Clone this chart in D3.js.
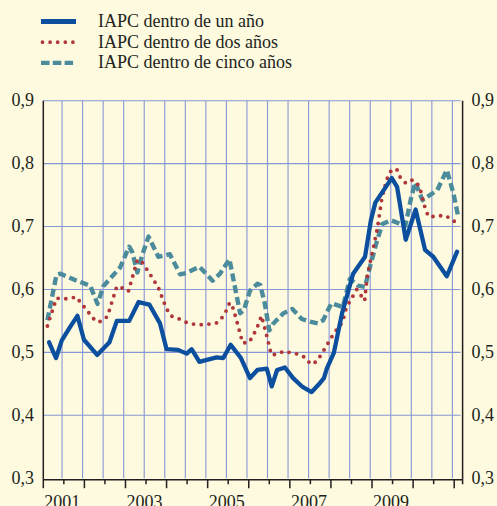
<!DOCTYPE html>
<html>
<head>
<meta charset="utf-8">
<script src="https://cdn.jsdelivr.net/npm/d3@7"></script>
<style>
  html, body { margin: 0; padding: 0; background: #fdfadf; }
  svg { display: block; }
  text { font-family: "Liberation Serif", "Times New Roman", serif; fill: #231f20; }
</style>
</head>
<body>
<svg id="chart" width="497" height="506"></svg>
<script>
// Series names (legend order)
const seriesNames = [
  "IAPC dentro de un año",
  "IAPC dentro de dos años",
  "IAPC dentro de cinco años"
];

// Horizon: one year ahead (decimal year, value)
const oneYearT = [2001.14, 2001.31, 2001.45, 2001.65, 2001.83, 2001.99,
  2002.31, 2002.61, 2002.79,
  2003.09, 2003.32, 2003.58, 2003.84,
  2004.00, 2004.28, 2004.49, 2004.61, 2004.80, 2004.98,
  2005.22, 2005.38, 2005.56, 2005.81,
  2006.03, 2006.21, 2006.44, 2006.56, 2006.69, 2006.88,
  2007.08, 2007.31, 2007.53, 2007.73, 2007.83, 2007.90,
  2008.07, 2008.27, 2008.54, 2008.83, 2008.97,
  2009.08, 2009.48, 2009.61, 2009.82,
  2010.06, 2010.29, 2010.49, 2010.82,
  2011.07];
const oneYearV = [0.516, 0.491, 0.519, 0.540, 0.558, 0.520,
  0.496, 0.516, 0.550,
  0.550, 0.580, 0.576, 0.546,
  0.505, 0.504, 0.498, 0.505, 0.485, 0.488,
  0.492, 0.491, 0.512, 0.491,
  0.459, 0.472, 0.474, 0.446, 0.472, 0.476,
  0.459, 0.445, 0.437, 0.451, 0.459, 0.474,
  0.499, 0.562, 0.625, 0.652, 0.709,
  0.738, 0.777, 0.763, 0.679,
  0.727, 0.663, 0.652, 0.621,
  0.660];

// Horizon: two years ahead
const twoYearT = [2001.10, 2001.32, 2001.59, 2001.80,
  2002.28, 2002.40, 2002.56, 2002.79, 2002.93,
  2003.07, 2003.29, 2003.38, 2003.60, 2003.80, 2003.94,
  2004.05, 2004.11, 2004.28, 2004.47, 2004.65, 2004.85,
  2005.04, 2005.23, 2005.36, 2005.45, 2005.53, 2005.58, 2005.70, 2005.85,
  2006.01, 2006.19, 2006.31, 2006.41, 2006.55, 2006.68, 2006.86,
  2007.04, 2007.22, 2007.37, 2007.51, 2007.64, 2007.76,
  2008.06, 2008.28, 2008.38, 2008.63, 2008.82, 2008.88,
  2009.13, 2009.24, 2009.36, 2009.48, 2009.61, 2009.68, 2009.82, 2009.96,
  2010.08, 2010.17, 2010.29, 2010.37, 2010.57, 2010.75, 2010.94,
  2011.07];
const twoYearV = [0.542, 0.586, 0.585, 0.588,
  0.549, 0.549, 0.557, 0.605, 0.602,
  0.597, 0.647, 0.646, 0.624, 0.603, 0.579,
  0.563, 0.558, 0.554, 0.548, 0.545, 0.544,
  0.545, 0.547, 0.556, 0.566, 0.578, 0.578, 0.552, 0.515,
  0.516, 0.537, 0.558, 0.534, 0.496, 0.497, 0.502,
  0.499, 0.497, 0.492, 0.481, 0.485, 0.496,
  0.529, 0.548, 0.572, 0.600, 0.582, 0.620,
  0.697, 0.745, 0.775, 0.791, 0.790, 0.779, 0.769, 0.774,
  0.771, 0.760, 0.730, 0.716, 0.716, 0.718, 0.712,
  0.704];

// Horizon: five years ahead
const fiveYearT = [2001.10, 2001.32, 2001.42, 2001.77,
  2002.14, 2002.32, 2002.46, 2002.87,
  2003.09, 2003.16, 2003.29, 2003.41, 2003.56, 2003.80,
  2004.08, 2004.33, 2004.47, 2004.80,
  2005.12, 2005.30, 2005.53, 2005.79, 2005.88,
  2006.03, 2006.21, 2006.28, 2006.39, 2006.50, 2006.60, 2006.84,
  2007.06, 2007.29, 2007.49, 2007.68, 2007.81,
  2008.01, 2008.29, 2008.46, 2008.66, 2008.83, 2008.95,
  2009.12, 2009.25, 2009.46, 2009.81, 2009.95,
  2010.05, 2010.23, 2010.34, 2010.59, 2010.82, 2010.98,
  2011.10];
const fiveYearV = [0.551, 0.623, 0.625, 0.615,
  0.606, 0.577, 0.605, 0.635,
  0.668, 0.660, 0.627, 0.655, 0.684, 0.652,
  0.656, 0.624, 0.626, 0.636,
  0.614, 0.625, 0.648, 0.562, 0.567,
  0.598, 0.609, 0.607, 0.578, 0.535, 0.546, 0.562,
  0.569, 0.553, 0.549, 0.546, 0.551,
  0.578, 0.572, 0.617, 0.606, 0.604, 0.636,
  0.677, 0.704, 0.710, 0.701, 0.745,
  0.770, 0.742, 0.747, 0.758, 0.790, 0.753,
  0.715];

// Axis ticks and labels
const yTicks = [0.3, 0.4, 0.5, 0.6, 0.7, 0.8, 0.9];
const yearTicks = d3.range(2001, 2012);          // long ticks at year starts
const halfYearTicks = d3.range(2001.5, 2011, 1); // short ticks at mid-year
const gridTicks = d3.range(2001.5, 2011.01, 0.5); // vertical grid every half year
const yearLabels = [2001, 2003, 2005, 2007, 2009];

const colors = { one: "#0b4f9e", two: "#b0363a", five: "#4b8b9c", grid: "#8797d6", axis: "#231f20" };

const svg = d3.select("#chart");
const x = d3.scaleLinear().domain([2001, 2011.18]).range([43.3, 461.6]);
const y = d3.scaleLinear().domain([0.3, 0.9]).range([478.2, 100.7]);
const fmt = d3.formatLocale({ decimal: ",", thousands: ".", grouping: [3], currency: ["", "€"] }).format(".1f");
const gridShift = -1.8;

const [x0, x1] = x.range();
const yTop = y(0.9), yBot = y(0.3);

// Grid
const grid = svg.append("g").attr("stroke", colors.grid).attr("stroke-width", 1.1);
grid.selectAll("line.h").data(yTicks.filter(v => v > 0.3)).join("line")
  .attr("x1", x0).attr("x2", x1 - 1)
  .attr("y1", d => y(d)).attr("y2", d => y(d));
grid.selectAll("line.v").data(gridTicks).join("line")
  .attr("x1", d => x(d) + gridShift).attr("x2", d => x(d) + gridShift)
  .attr("y1", yTop).attr("y2", yBot);

// Axes frame
const ax = svg.append("g").attr("stroke", colors.axis).attr("stroke-width", 1.5).attr("fill", "none");
ax.append("line").attr("x1", x0).attr("x2", x0).attr("y1", yTop).attr("y2", yBot + 1.5);
ax.append("line").attr("x1", x1 + 1).attr("x2", x1 + 1).attr("y1", yTop).attr("y2", yBot + 6);
ax.append("line").attr("x1", x0).attr("x2", x1 + 1).attr("y1", yBot + 1.5).attr("y2", yBot + 1.5);
ax.selectAll("line.yt").data(yearTicks).join("line")
  .attr("x1", d => x(d)).attr("x2", d => x(d))
  .attr("y1", yBot + 1.5).attr("y2", yBot + 10);
ax.selectAll("line.ht").data(halfYearTicks).join("line")
  .attr("x1", d => x(d)).attr("x2", d => x(d))
  .attr("y1", yBot + 1.5).attr("y2", yBot + 6);

// Y labels, both sides
const labels = svg.append("g").attr("font-size", 18);
labels.selectAll("text.l").data(yTicks).join("text")
  .attr("x", 34).attr("y", d => y(d) + 5.5).attr("text-anchor", "end")
  .text(d => fmt(d));
labels.selectAll("text.r").data(yTicks).join("text")
  .attr("x", 471.5).attr("y", d => y(d) + 5.5).attr("text-anchor", "start")
  .text(d => fmt(d));
// X labels
labels.selectAll("text.x").data(yearLabels).join("text")
  .attr("x", d => x(d + 0.5) - 1.5).attr("y", 508).attr("text-anchor", "middle")
  .text(d => d);

// Series
const line = d3.line().x(d => x(d[0])).y(d => y(d[1]));
const series = [
  { t: fiveYearT, v: fiveYearV, color: colors.five, width: 4.4, dash: "8,4", cap: "butt" },
  { t: twoYearT, v: twoYearV, color: colors.two, width: 3.9, dash: "0,7.7", cap: "round" },
  { t: oneYearT, v: oneYearV, color: colors.one, width: 4.3, dash: null, cap: "round" }
];
svg.append("g").selectAll("path").data(series).join("path")
  .attr("d", s => line(d3.zip(s.t, s.v)))
  .attr("fill", "none")
  .attr("stroke", s => s.color)
  .attr("stroke-width", s => s.width)
  .attr("stroke-dasharray", s => s.dash)
  .attr("stroke-linecap", s => s.cap)
  .attr("stroke-linejoin", "round");

// Legend
const legendItems = [
  { name: seriesNames[0], color: colors.one, width: 5, dash: null, cap: "butt" },
  { name: seriesNames[1], color: colors.two, width: 3.7, dash: "0,7.6", cap: "round" },
  { name: seriesNames[2], color: colors.five, width: 4.4, dash: "8.5,3.3", cap: "butt" }
];
const lg = svg.append("g").selectAll("g").data(legendItems).join("g")
  .attr("transform", (d, i) => `translate(0,${21.5 + i * 20.7})`);
lg.append("line")
  .attr("x1", d => d.cap === "round" ? 42.5 : 41).attr("x2", 76)
  .attr("y1", 0).attr("y2", 0)
  .attr("stroke", d => d.color).attr("stroke-width", d => d.width)
  .attr("stroke-dasharray", d => d.dash).attr("stroke-linecap", d => d.cap);
lg.append("text").attr("x", 98).attr("y", 5.5).attr("font-size", 18).text(d => d.name);
</script>
</body>
</html>
